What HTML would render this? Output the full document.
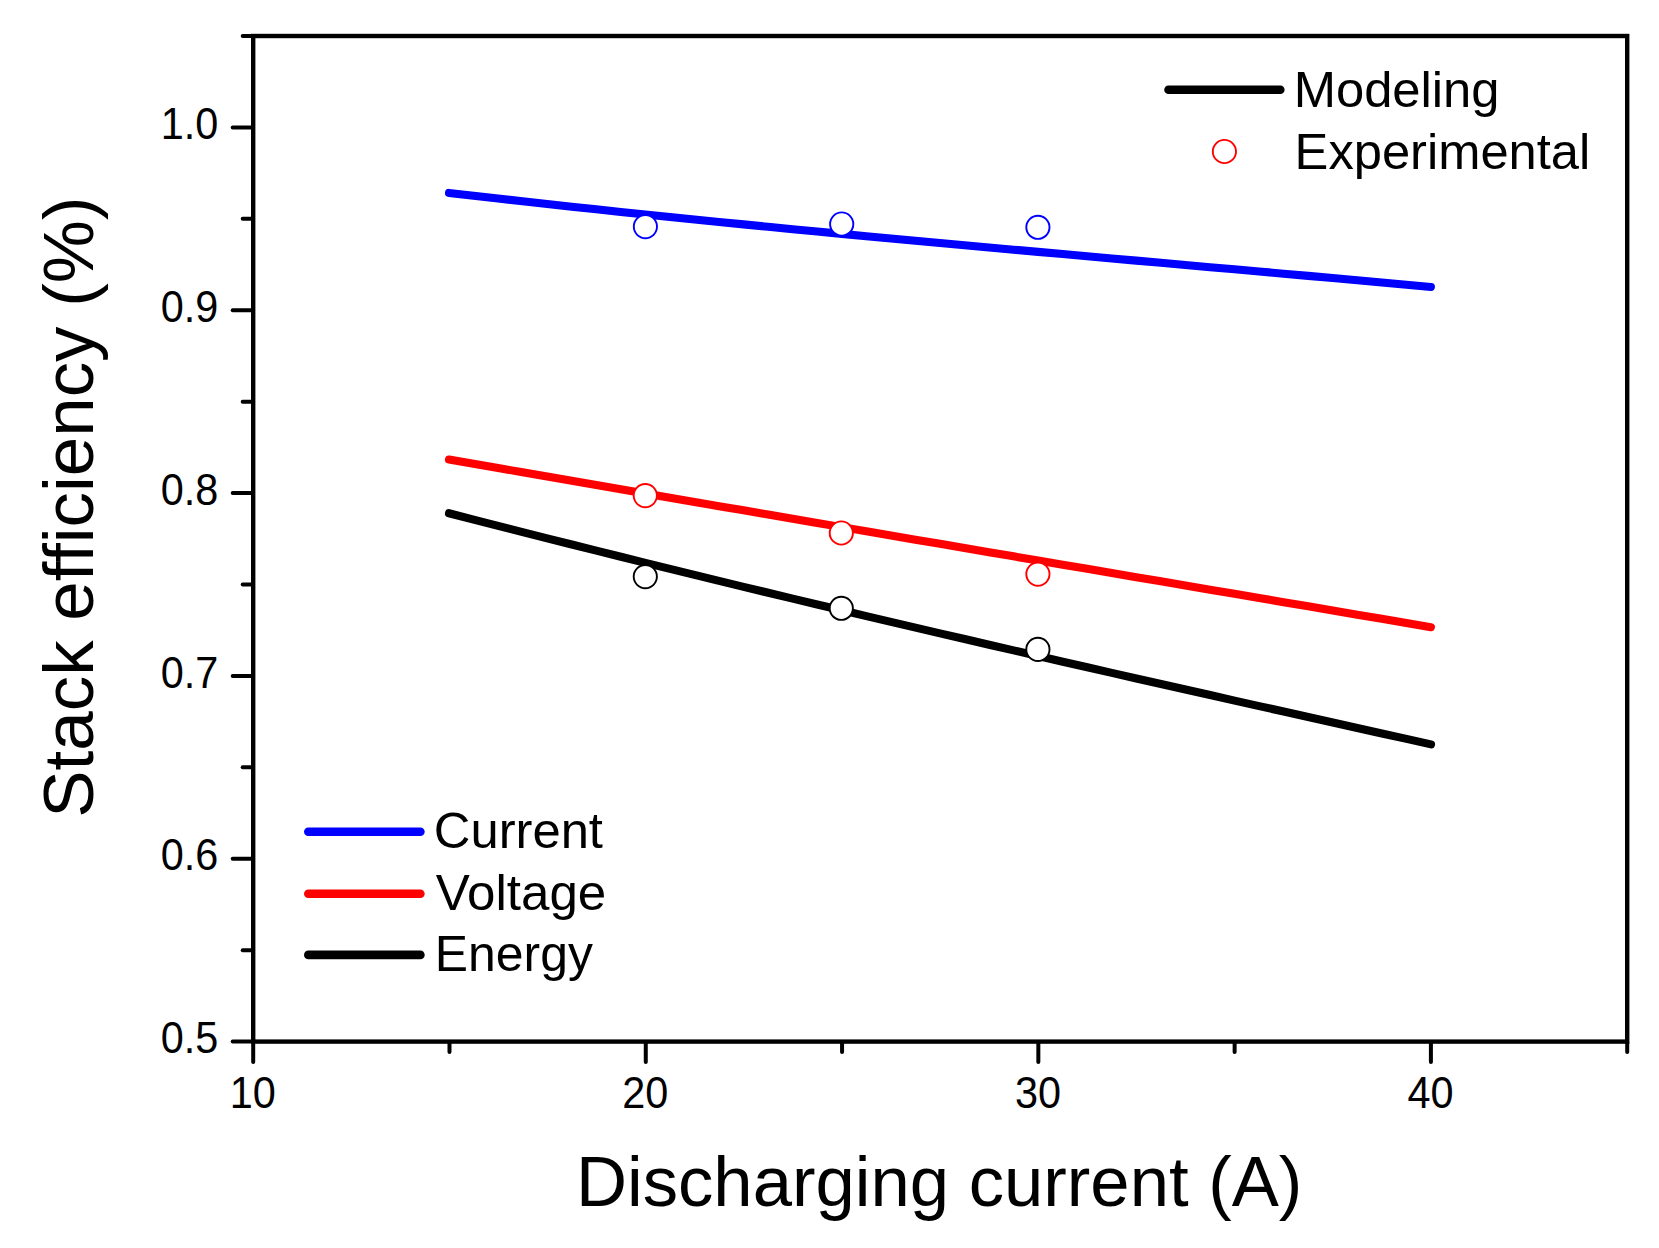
<!DOCTYPE html>
<html><head><meta charset="utf-8"><title>Stack efficiency</title>
<style>
html,body{margin:0;padding:0;background:#fff;}
body{width:1659px;height:1248px;overflow:hidden;}
svg{display:block;font-family:"Liberation Sans",sans-serif;}
</style></head><body>
<svg width="1659" height="1248" viewBox="0 0 1659 1248">
<rect width="1659" height="1248" fill="#ffffff"/>

<g stroke="#000" stroke-width="4.4" stroke-linecap="round" fill="none">
<rect x="253.2" y="36.0" width="1374.0" height="1005.5999999999999" stroke-linejoin="miter"/>
</g>
<g stroke="#000" stroke-width="4.0" stroke-linecap="round" fill="none">
<line x1="232.70" y1="1041.60" x2="252.20" y2="1041.60"/>
<line x1="242.70" y1="950.18" x2="252.20" y2="950.18"/>
<line x1="232.70" y1="858.76" x2="252.20" y2="858.76"/>
<line x1="242.70" y1="767.35" x2="252.20" y2="767.35"/>
<line x1="232.70" y1="675.93" x2="252.20" y2="675.93"/>
<line x1="242.70" y1="584.51" x2="252.20" y2="584.51"/>
<line x1="232.70" y1="493.09" x2="252.20" y2="493.09"/>
<line x1="242.70" y1="401.67" x2="252.20" y2="401.67"/>
<line x1="232.70" y1="310.25" x2="252.20" y2="310.25"/>
<line x1="242.70" y1="218.84" x2="252.20" y2="218.84"/>
<line x1="232.70" y1="127.42" x2="252.20" y2="127.42"/>
<line x1="242.70" y1="36.00" x2="252.20" y2="36.00"/>
<line x1="253.20" y1="1042.60" x2="253.20" y2="1062.10"/>
<line x1="449.49" y1="1042.60" x2="449.49" y2="1052.10"/>
<line x1="645.77" y1="1042.60" x2="645.77" y2="1062.10"/>
<line x1="842.06" y1="1042.60" x2="842.06" y2="1052.10"/>
<line x1="1038.34" y1="1042.60" x2="1038.34" y2="1062.10"/>
<line x1="1234.63" y1="1042.60" x2="1234.63" y2="1052.10"/>
<line x1="1430.91" y1="1042.60" x2="1430.91" y2="1062.10"/>
<line x1="1627.20" y1="1042.60" x2="1627.20" y2="1052.10"/>
</g>
<g font-size="43.9px" fill="#000">
<text transform="translate(218.4,1053.20) scale(0.944,1)" text-anchor="end">0.5</text>
<text transform="translate(218.4,870.36) scale(0.944,1)" text-anchor="end">0.6</text>
<text transform="translate(218.4,687.53) scale(0.944,1)" text-anchor="end">0.7</text>
<text transform="translate(218.4,504.69) scale(0.944,1)" text-anchor="end">0.8</text>
<text transform="translate(218.4,321.85) scale(0.944,1)" text-anchor="end">0.9</text>
<text transform="translate(218.4,139.02) scale(0.944,1)" text-anchor="end">1.0</text>
<text transform="translate(252.80,1108) scale(0.944,1)" text-anchor="middle">10</text>
<text transform="translate(645.37,1108) scale(0.944,1)" text-anchor="middle">20</text>
<text transform="translate(1037.94,1108) scale(0.944,1)" text-anchor="middle">30</text>
<text transform="translate(1430.51,1108) scale(0.944,1)" text-anchor="middle">40</text>
</g>
<text transform="translate(576.0,1206.1) scale(0.998,1)" font-size="70.8px" fill="#000">Discharging current (A)</text>
<text transform="translate(92.7,507.1) rotate(-90)" font-size="70.9px" text-anchor="middle" fill="#000">Stack efficiency (%)</text>
<g fill="none" stroke-width="8.1" stroke-linecap="round" stroke-linejoin="round">
<path d="M449.0 192.90 L473.5 195.74 L498.1 198.54 L522.6 201.30 L547.2 204.01 L571.7 206.68 L596.3 209.31 L620.8 211.91 L645.4 214.47 L669.9 217.00 L694.5 219.49 L719.0 221.96 L743.6 224.39 L768.1 226.80 L792.7 229.18 L817.2 231.54 L841.8 233.87 L866.3 236.18 L890.9 238.47 L915.4 240.74 L940.0 243.00 L964.5 245.24 L989.0 247.47 L1013.6 249.69 L1038.1 251.89 L1062.7 254.09 L1087.2 256.27 L1111.8 258.46 L1136.3 260.63 L1160.9 262.81 L1185.4 264.98 L1210.0 267.16 L1234.5 269.33 L1259.1 271.51 L1283.6 273.70 L1308.2 275.89 L1332.7 278.09 L1357.3 280.30 L1381.8 282.52 L1406.4 284.75 L1430.9 287.00" stroke="#0000ff"/>
<path d="M449.0 459.49 L473.5 463.77 L498.1 468.04 L522.6 472.30 L547.2 476.55 L571.7 480.80 L596.3 485.04 L620.8 489.28 L645.4 493.50 L669.9 497.72 L694.5 501.94 L719.0 506.15 L743.6 510.36 L768.1 514.56 L792.7 518.75 L817.2 522.94 L841.8 527.13 L866.3 531.31 L890.9 535.49 L915.4 539.67 L940.0 543.85 L964.5 548.02 L989.0 552.19 L1013.6 556.36 L1038.1 560.52 L1062.7 564.69 L1087.2 568.85 L1111.8 573.01 L1136.3 577.18 L1160.9 581.34 L1185.4 585.50 L1210.0 589.66 L1234.5 593.83 L1259.1 597.99 L1283.6 602.16 L1308.2 606.32 L1332.7 610.49 L1357.3 614.66 L1381.8 618.84 L1406.4 623.01 L1430.9 627.19" stroke="#ff0000"/>
<path d="M449.0 513.24 L473.6 519.58 L498.1 525.88 L522.6 532.13 L547.2 538.35 L571.8 544.53 L596.3 550.67 L620.9 556.78 L645.4 562.86 L670.0 568.90 L694.5 574.90 L719.0 580.88 L743.6 586.82 L768.2 592.74 L792.7 598.62 L817.2 604.48 L841.8 610.30 L866.4 616.11 L890.9 621.88 L915.5 627.63 L940.0 633.36 L964.6 639.07 L989.1 644.75 L1013.6 650.41 L1038.2 656.06 L1062.8 661.68 L1087.3 667.28 L1111.8 672.87 L1136.4 678.44 L1161.0 684.00 L1185.5 689.54 L1210.1 695.06 L1234.6 700.58 L1259.2 706.08 L1283.7 711.57 L1308.2 717.05 L1332.8 722.53 L1357.3 727.99 L1381.9 733.45 L1406.5 738.90 L1431.0 744.34" stroke="#000000"/>
</g>
<g fill="#fff" stroke-width="1.9">
<circle cx="645.4" cy="226.6" r="11.6" stroke="#0000ff"/>
<circle cx="841.7" cy="224.0" r="11.6" stroke="#0000ff"/>
<circle cx="1037.9" cy="227.3" r="11.6" stroke="#0000ff"/>
<circle cx="645.3" cy="495.6" r="11.6" stroke="#ff0000"/>
<circle cx="841.3" cy="533.0" r="11.6" stroke="#ff0000"/>
<circle cx="1037.9" cy="574.1" r="11.6" stroke="#ff0000"/>
<circle cx="645.3" cy="576.6" r="11.6" stroke="#000000"/>
<circle cx="841.3" cy="608.3" r="11.6" stroke="#000000"/>
<circle cx="1037.9" cy="649.4" r="11.6" stroke="#000000"/>
<circle cx="1224.4" cy="151.5" r="11.6" stroke="#ff0000"/>
</g>
<g stroke-width="8.6" stroke-linecap="round">
<line x1="1168.5" y1="89.7" x2="1280.3" y2="89.7" stroke="#000"/>
<line x1="308.3" y1="831.8" x2="420.4" y2="831.8" stroke="#0000ff"/>
<line x1="308.3" y1="893.8" x2="420.4" y2="893.8" stroke="#ff0000"/>
<line x1="308.3" y1="954.9" x2="420.4" y2="954.9" stroke="#000"/>
</g>
<g font-size="49.5px" fill="#000">
<text transform="translate(1293.7,106.7) scale(1.025,1)">Modeling</text>
<text transform="translate(1294.6,168.9) scale(1.024,1)">Experimental</text>
<text transform="translate(433.8,848) scale(1.025,1)">Current</text>
<text transform="translate(435.7,909.9) scale(1.033,1)">Voltage</text>
<text transform="translate(434.8,971.4) scale(1.008,1)">Energy</text>
</g>
</svg></body></html>
